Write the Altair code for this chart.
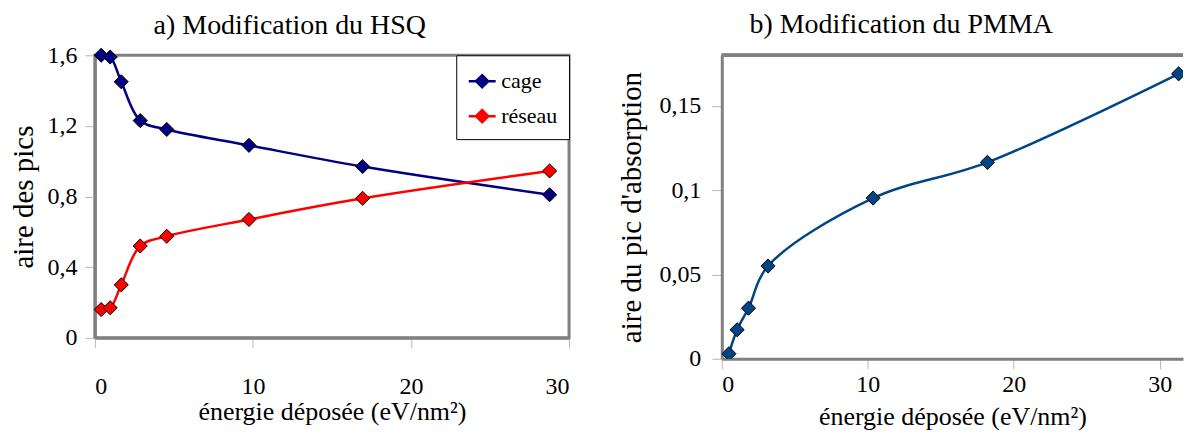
import altair as alt
import pandas as pd

# ---- data ----
hsq_energy = [0.40, 0.97, 1.67, 2.87, 4.55, 9.75, 16.94, 28.77]
hsq_cage = [1.60, 1.59, 1.45, 1.23, 1.18, 1.09, 0.97, 0.81]
hsq_reseau = [0.16, 0.17, 0.30, 0.52, 0.575, 0.67, 0.79, 0.945]
series_names = ["cage", "réseau"]
series_colors = ["#000080", "#ff0000"]

pmma_energy = [0.49, 1.05, 1.83, 3.17, 10.37, 18.2, 31.3]
pmma_area = [0.003, 0.0172, 0.030, 0.055, 0.0953, 0.1165, 0.169]

x_ticks = [0, 10, 20, 30]
hsq_y_ticks = [0, 0.4, 0.8, 1.2, 1.6]
pmma_y_ticks = [0, 0.05, 0.1, 0.15]

FONT = "Liberation Serif"
GRAY = "#808080"

df_a = pd.DataFrame({
    "energie": hsq_energy + hsq_energy,
    "aire": hsq_cage + hsq_reseau,
    "serie": [series_names[0]] * len(hsq_energy) + [series_names[1]] * len(hsq_energy),
})
df_b = pd.DataFrame({"energie": pmma_energy, "aire": pmma_area})

x_title = "énergie déposée (eV/nm²)"

# ---------- panel a ----------
xa = alt.X("energie:Q", scale=alt.Scale(domain=[0, 30], nice=False),
           axis=alt.Axis(values=x_ticks, title=x_title, labelPadding=27, titlePadding=0))
ya = alt.Y("aire:Q", scale=alt.Scale(domain=[0, 1.6], nice=False),
           axis=alt.Axis(values=hsq_y_ticks, title="aire des pics", titlePadding=8,
                         labelExpr="datum.value == 0 ? '0' : replace(format(datum.value, '.1f'), '.', ',')"))
color_scale = alt.Scale(domain=series_names, range=series_colors)

legend_path = "M-1,0H-0.45M-0.45,0L0,-0.45L0.45,0L0,0.45ZM0.45,0H1"
leg = alt.Legend(title=None, orient="top-right", offset=0,
                 strokeColor="black", fillColor="white",
                 padding=11, rowPadding=8, labelOffset=4,
                 symbolType=legend_path, symbolSize=729,
                 symbolStrokeWidth=2.5,
                 labelFont=FONT, labelFontSize=22, labelColor="black")

line_a = alt.Chart(df_a).mark_line(interpolate="catmull-rom", strokeWidth=2.5).encode(
    x=xa, y=ya,
    stroke=alt.Stroke("serie:N", scale=color_scale, legend=leg),
)
pts_a = alt.Chart(df_a).mark_point(shape="diamond", filled=True, size=200, stroke="black",
                                   strokeWidth=1, opacity=1).encode(
    x=xa, y=ya,
    fill=alt.Fill("serie:N", scale=color_scale, legend=leg),
)
panel_a = alt.layer(line_a, pts_a).properties(
    width=475, height=283,
    title=alt.TitleParams("a) Modification du HSQ", font=FONT, fontSize=28, fontWeight="normal",
                          anchor="middle", frame="bounds", offset=3, color="black"),
)

# ---------- panel b ----------
xb = alt.X("energie:Q", scale=alt.Scale(domain=[0, 31.6], nice=False),
           axis=alt.Axis(values=x_ticks, title=x_title, labelPadding=4, titlePadding=7))
yb = alt.Y("aire:Q", scale=alt.Scale(domain=[0, 0.18], nice=False),
           axis=alt.Axis(values=pmma_y_ticks, title="aire du pic d'absorption", titlePadding=12,
                         labelPadding=11,
                         labelExpr="replace(format(datum.value, '.2~f'), '.', ',')"))
line_b = alt.Chart(df_b).mark_line(interpolate="catmull-rom", strokeWidth=2.5, color="#004586",
                                   clip=True).encode(x=xb, y=yb)
pts_b = alt.Chart(df_b).mark_point(shape="diamond", filled=True, size=200, color="#004586",
                                   stroke="black", strokeWidth=1, opacity=1, clip=True).encode(x=xb, y=yb)
top_b = alt.Chart(df_b).mark_rule(color=GRAY, strokeWidth=3).encode(y=alt.datum(0.18))
panel_b = alt.layer(top_b, line_b, pts_b).properties(
    width=462, height=304,
    view=alt.ViewBackground(stroke="transparent"),
    title=alt.TitleParams("b) Modification du PMMA", font=FONT, fontSize=28, fontWeight="normal",
                          anchor="middle", frame="bounds", offset=15, color="black"),
)

chart = alt.hconcat(panel_a, panel_b, spacing=153, bounds="flush").resolve_scale(
    stroke="independent", fill="independent"
).resolve_legend(
    stroke="independent", fill="independent"
).properties(
    padding={"left": 0, "top": 1, "right": 0, "bottom": 0}
).configure(
    font=FONT
).configure_view(
    stroke=GRAY, strokeWidth=3
).configure_axis(
    grid=False,
    domainColor=GRAY, domainWidth=3,
    tickColor="#b8b8b8", tickSize=10, tickWidth=1,
    labelFont=FONT, labelFontSize=24, labelColor="black", labelPadding=8,
    titleFont=FONT, titleFontSize=26, titleFontWeight="normal", titleColor="black",
).configure_axisY(
    titleFontSize=29
)

chart.save("out.html", embed_options={"renderer": "svg", "actions": False})
